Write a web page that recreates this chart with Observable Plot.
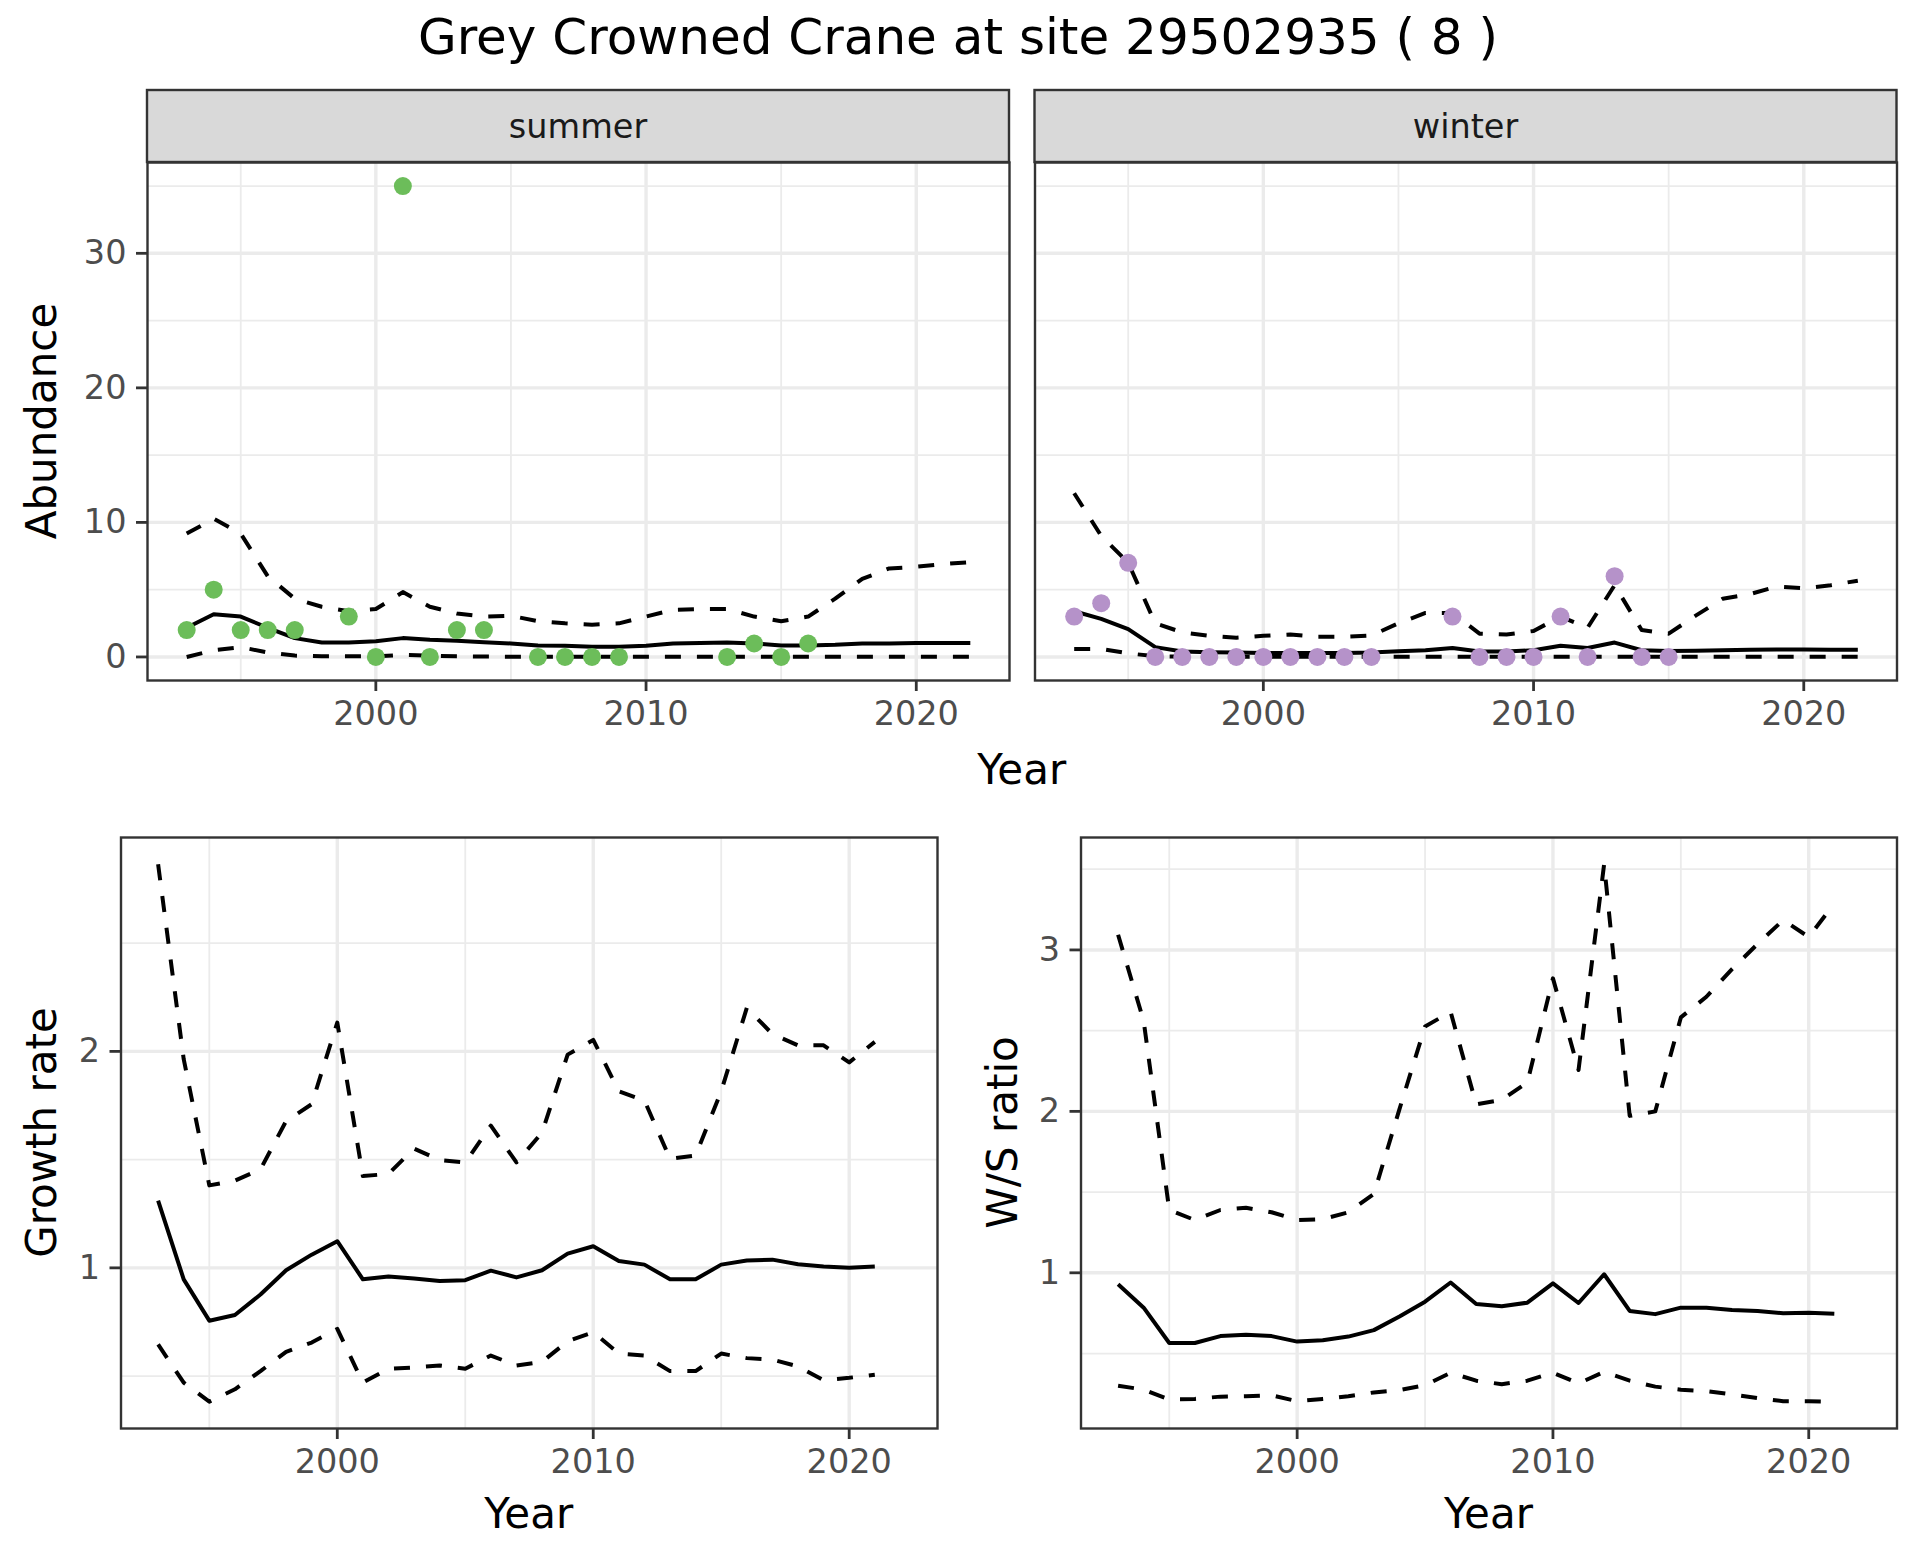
<!DOCTYPE html>
<html>
<head>
<meta charset="utf-8">
<script src="https://cdn.jsdelivr.net/npm/d3@7"></script>
<script src="https://cdn.jsdelivr.net/npm/@observablehq/plot@0.6"></script>
<style>
html, body { margin: 0; padding: 0; background: #ffffff; }
#page { position: relative; width: 1920px; height: 1560px; overflow: hidden; font-family: "DejaVu Sans"; }
#page svg { position: absolute; left: 0; top: 0; }
</style>
</head>
<body>
<div id="page"></div>
<script>
// ---------------- data ----------------
const titleText = "Grey Crowned Crane at site 29502935 ( 8 )";
const stripLabels = ["summer", "winter"];

const xMajorTicks = [2000, 2010, 2020];
const xMinorTicks = [1995, 2005, 2015];

// observed counts
const summerYears  = [1993,1994,1995,1996,1997,1999,2000,2001,2002,2003,2004,2006,2007,2008,2009,2013,2014,2015,2016];
const summerCounts = [2,5,2,2,2,3,0,35,0,2,2,0,0,0,0,0,1,0,1];
const winterYears  = [1993,1994,1995,1996,1997,1998,1999,2000,2001,2002,2003,2004,2007,2008,2009,2010,2011,2012,2013,2014,2015];
const winterCounts = [3,4,7,0,0,0,0,0,0,0,0,0,3,0,0,0,3,0,6,0,0];

// modelled abundance 1993-2022
const abundanceYears = [1993,1994,1995,1996,1997,1998,1999,2000,2001,2002,2003,2004,2005,2006,2007,2008,2009,2010,2011,2012,2013,2014,2015,2016,2017,2018,2019,2020,2021,2022];
const summerMean  = [2.17,3.17,3.0,2.17,1.4,1.07,1.07,1.17,1.4,1.27,1.2,1.1,1.0,0.85,0.83,0.75,0.75,0.83,1.0,1.03,1.07,1.0,0.85,0.85,0.9,1.0,1.0,1.03,1.03,1.03];
const summerUpper = [9.17,10.27,9.17,6.0,4.33,3.73,3.4,3.56,4.82,3.73,3.23,3.0,3.06,2.66,2.5,2.4,2.5,3.0,3.5,3.56,3.56,3.0,2.66,3.0,4.33,5.8,6.58,6.7,6.9,7.05];
const summerLower = [0.0,0.5,0.73,0.33,0.1,0.05,0.05,0.05,0.15,0.1,0.05,0.03,0.02,0.02,0.02,0.02,0.02,0.02,0.02,0.02,0.02,0.02,0.02,0.02,0.02,0.02,0.02,0.02,0.02,0.02];
const winterMean  = [3.4,2.83,2.07,0.73,0.4,0.35,0.33,0.3,0.3,0.3,0.3,0.33,0.43,0.5,0.67,0.4,0.4,0.5,0.83,0.67,1.07,0.5,0.45,0.47,0.5,0.53,0.55,0.55,0.53,0.53];
const winterUpper = [12.17,9.0,7.0,2.5,1.83,1.57,1.43,1.57,1.67,1.5,1.5,1.6,2.5,3.27,3.27,1.73,1.67,1.93,3.0,2.17,5.33,2.0,1.73,3.07,4.33,4.67,5.23,5.1,5.33,5.67];
const winterLower = [0.6,0.6,0.27,0.05,0.03,0.03,0.02,0.02,0.02,0.02,0.02,0.02,0.02,0.02,0.02,0.02,0.02,0.02,0.02,0.02,0.02,0.02,0.02,0.02,0.02,0.02,0.02,0.02,0.02,0.02];

// growth rate and W/S ratio 1993-2021
const rateYears = [1993,1994,1995,1996,1997,1998,1999,2000,2001,2002,2003,2004,2005,2006,2007,2008,2009,2010,2011,2012,2013,2014,2015,2016,2017,2018,2019,2020,2021];
const growthMean  = [1.311,0.947,0.756,0.782,0.877,0.989,1.061,1.123,0.947,0.96,0.951,0.939,0.943,0.987,0.956,0.989,1.066,1.1,1.032,1.015,0.947,0.947,1.015,1.034,1.038,1.017,1.006,1.0,1.006];
const growthUpper = [2.864,1.964,1.381,1.403,1.455,1.678,1.756,2.133,1.424,1.434,1.551,1.498,1.487,1.657,1.487,1.625,1.985,2.053,1.816,1.773,1.504,1.519,1.816,2.201,2.08,2.028,2.028,1.949,2.044];
const growthLower = [0.646,0.47,0.382,0.439,0.523,0.612,0.655,0.718,0.47,0.534,0.54,0.549,0.534,0.595,0.549,0.566,0.661,0.703,0.604,0.595,0.523,0.523,0.604,0.583,0.576,0.545,0.481,0.492,0.506];
const ratioMean  = [0.929,0.784,0.565,0.565,0.608,0.616,0.608,0.574,0.582,0.605,0.645,0.73,0.821,0.94,0.807,0.793,0.815,0.935,0.813,0.991,0.764,0.744,0.784,0.784,0.77,0.764,0.75,0.753,0.747];
const ratioUpper = [3.094,2.56,1.389,1.327,1.389,1.403,1.375,1.327,1.332,1.375,1.489,2.014,2.526,2.616,2.043,2.071,2.179,2.824,2.256,3.53,1.972,2.0,2.582,2.71,2.881,3.037,3.185,3.08,3.287];
const ratioLower = [0.301,0.276,0.216,0.219,0.233,0.236,0.241,0.205,0.219,0.236,0.259,0.273,0.304,0.381,0.332,0.31,0.332,0.381,0.315,0.386,0.332,0.295,0.276,0.267,0.247,0.224,0.205,0.205,0.202];

const abundanceTicks = [0, 10, 20, 30];
const abundanceMinor = [5, 15, 25, 35];
const growthTicks = [1, 2];
const growthMinor = [0.5, 1.5, 2.5];
const ratioTicks = [1, 2, 3];
const ratioMinor = [0.5, 1.5, 2.5, 3.5];

// ---------------- styling ----------------
const W = 1920, H = 1560;
const FONT = "DejaVu Sans";
const GRID = "#EBEBEB";
const GREEN = "#6CBD5A";
const PURPLE = "#B592C9";
const TICK_FS = 33.5, TITLE_FS = 42;
const LW = 4;

function expand(extent) {
  const r = extent[1] - extent[0];
  return [extent[0] - 0.05 * r, extent[1] + 0.05 * r];
}
const xDomain = expand([1993, 2022]);

function lineMarks(years, mean, upper, lower) {
  return [
    Plot.lineY(upper, {x: years, stroke: "#000", strokeWidth: LW, strokeDasharray: "16,16", strokeLinecap: "butt", strokeLinejoin: "round"}),
    Plot.lineY(lower, {x: years, stroke: "#000", strokeWidth: LW, strokeDasharray: "16,16", strokeLinecap: "butt", strokeLinejoin: "round"}),
    Plot.lineY(mean,  {x: years, stroke: "#000", strokeWidth: LW, strokeLinecap: "butt", strokeLinejoin: "round"})
  ];
}

function panel({left, right, top, bottom, yDomain, yTicks, yMinor, showY, marks}) {
  return Plot.plot({
    width: W, height: H,
    marginLeft: left, marginRight: W - right, marginTop: top, marginBottom: H - bottom,
    style: {fontFamily: FONT, background: "transparent", overflow: "visible", maxWidth: "none"},
    x: {type: "linear", domain: xDomain},
    y: showY ? {type: "linear", domain: yDomain} : {type: "linear", domain: yDomain, axis: null},
    marks: [
      Plot.ruleX(xMinorTicks, {stroke: GRID, strokeWidth: 1.8}),
      Plot.ruleY(yMinor, {stroke: GRID, strokeWidth: 1.8}),
      Plot.ruleX(xMajorTicks, {stroke: GRID, strokeWidth: 3.4}),
      Plot.ruleY(yTicks, {stroke: GRID, strokeWidth: 3.4}),
      ...marks,
      Plot.frame({stroke: "#333333", strokeWidth: 2.4}),
      Plot.axisX({ticks: xMajorTicks, tickFormat: d => String(d), tickSize: 11, tickPadding: 10,
                  fontSize: TICK_FS, fill: "#4D4D4D", stroke: "#333333", strokeWidth: 2.8, label: null}),
      showY ? Plot.axisY({ticks: yTicks, tickFormat: d => String(d), tickSize: 11, tickPadding: 10,
                  fontSize: TICK_FS, fill: "#4D4D4D", stroke: "#333333", strokeWidth: 2.8, label: null}) : null
    ]
  });
}

function addText(svg, txt, x, y, size, opts = {}) {
  const t = d3.select(svg).append("text")
    .attr("x", opts.rotate ? 0 : x).attr("y", opts.rotate ? 0 : y)
    .attr("text-anchor", "middle")
    .attr("font-family", FONT).attr("font-size", size)
    .attr("fill", opts.fill || "#000000")
    .style("font-family", FONT)
    .text(txt);
  if (opts.rotate) t.attr("transform", `translate(${x},${y}) rotate(-90)`);
  return t;
}

function addStrip(svg, label, left, right, top, bottom) {
  d3.select(svg).append("rect")
    .attr("x", left).attr("y", top).attr("width", right - left).attr("height", bottom - top)
    .attr("fill", "#D9D9D9").attr("stroke", "#333333").attr("stroke-width", 2.4);
  addText(svg, label, (left + right) / 2, 138, TICK_FS, {fill: "#1A1A1A"});
}

// ---------------- layout ----------------
const P = {
  summer: {left: 147, right: 1009, top: 162, bottom: 680},
  winter: {left: 1034.5, right: 1896.5, top: 162, bottom: 680},
  growth: {left: 120.5, right: 937, top: 837, bottom: 1428},
  ratio:  {left: 1080.5, right: 1896.5, top: 837, bottom: 1428}
};
const stripTop = 90;

const page = document.getElementById("page");

const summerSvg = panel({...P.summer, yDomain: [-1.75, 36.75], yTicks: abundanceTicks, yMinor: abundanceMinor, showY: true,
  marks: [...lineMarks(abundanceYears, summerMean, summerUpper, summerLower),
          Plot.dot(summerCounts, {x: summerYears, y: summerCounts, r: 9, fill: GREEN, stroke: "none"})]});
const winterSvg = panel({...P.winter, yDomain: [-1.75, 36.75], yTicks: abundanceTicks, yMinor: abundanceMinor, showY: false,
  marks: [...lineMarks(abundanceYears, winterMean, winterUpper, winterLower),
          Plot.dot(winterCounts, {x: winterYears, y: winterCounts, r: 9, fill: PURPLE, stroke: "none"})]});

const gAll = growthMean.concat(growthUpper, growthLower);
const growthSvg = panel({...P.growth, yDomain: expand(d3.extent(gAll)), yTicks: growthTicks, yMinor: growthMinor, showY: true,
  marks: lineMarks(rateYears, growthMean, growthUpper, growthLower)});
const rAll = ratioMean.concat(ratioUpper, ratioLower);
const ratioSvg = panel({...P.ratio, yDomain: expand(d3.extent(rAll)), yTicks: ratioTicks, yMinor: ratioMinor, showY: true,
  marks: lineMarks(rateYears, ratioMean, ratioUpper, ratioLower)});

addStrip(summerSvg, stripLabels[0], P.summer.left, P.summer.right, stripTop, P.summer.top);
addStrip(winterSvg, stripLabels[1], P.winter.left, P.winter.right, stripTop, P.winter.top);

addText(summerSvg, titleText, 958, 53.5, 50);
addText(summerSvg, "Year", (P.summer.left + P.winter.right) / 2, 784, TITLE_FS);
addText(summerSvg, "Abundance", 56, (P.summer.top + P.summer.bottom) / 2, TITLE_FS, {rotate: true});
addText(growthSvg, "Growth rate", 56, (P.growth.top + P.growth.bottom) / 2, TITLE_FS, {rotate: true});
addText(growthSvg, "Year", (P.growth.left + P.growth.right) / 2, 1528, TITLE_FS);
addText(ratioSvg, "W/S ratio", 1017, (P.ratio.top + P.ratio.bottom) / 2, TITLE_FS, {rotate: true});
addText(ratioSvg, "Year", (P.ratio.left + P.ratio.right) / 2, 1528, TITLE_FS);

[growthSvg, ratioSvg, winterSvg, summerSvg].forEach(s => page.appendChild(s));
</script>
</body>
</html>
